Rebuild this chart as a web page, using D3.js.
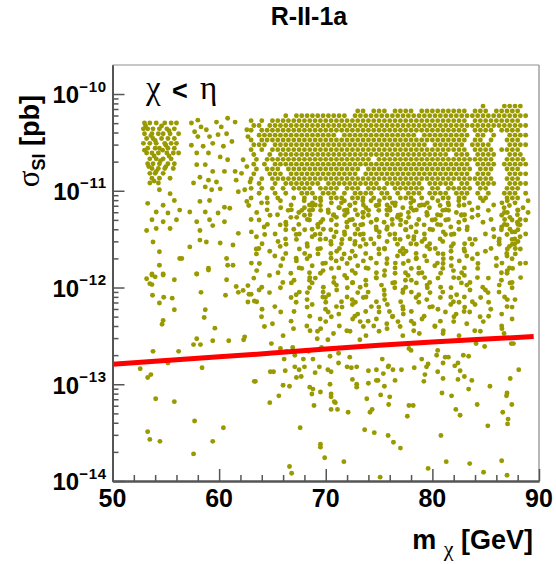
<!DOCTYPE html>
<html><head><meta charset="utf-8">
<script src="https://cdn.jsdelivr.net/npm/d3@7"></script>
<style>body{margin:0;background:#fff}svg{display:block}</style>
</head><body>
<svg id="c" width="556" height="564"></svg>
<script>
// ---------------- data ----------------
const chartTitle = "R-II-1a";
const xMajorTicks = [50, 60, 70, 80, 90];
const xMinorTicks = [52, 54, 56, 58, 62, 64, 66, 68, 72, 74, 76, 78, 82, 84, 86, 88];
const yDecades = [-14, -13, -12, -11, -10];
const yDecadeLabels = ["\u221214", "\u221213", "\u221212", "\u221211", "\u221210"];

// exclusion limit (red curve)
const limitMass = [50, 55, 60, 65, 70, 75, 80, 85, 89.5];
const limitSigma = [1.61e-13, 1.76e-13, 1.92e-13, 2.10e-13, 2.32e-13, 2.53e-13, 2.74e-13, 2.93e-13, 3.11e-13];

// dense part of the scan, read as occupied cells of a 0.5 GeV x 0.05 decade grid.
// '#' = point at cell centre, '1'..'9' = point in that 3x3 sub-position of the cell, '.' = empty
const gridMassStart = 63.25, gridMassStep = 0.5;
const gridLogStart = -10.125, gridLogStep = 0.05;
const denseRows = [
".......... .......... .......... .......... ...#...### #..",
".......... .......... ##.###.### #.######## #.###.#### #..",
"......#.## ########.# ########## ########## ########## ##.",
"#.#.###### ########## ########## ########## #.######## #..",
"##.####### ########## ########## ########## ########## ##.",
"#.######## ########## ########## ########## #.####.### #..",
".######### ######.### ########## #.######## #.##.#..## ##.",
"#.######## ########## ########## ########## #.##.#..## #..",
"###.###### ########## ########## ###.###### .####...## ##.",
"#.#.###### ########## ########## ########## #.####.### #..",
"#..#.##### ########## ########## #######.## #.####..## #..",
".#.####### ########## ###.###### ########## ######..## ##.",
"#.#.###### ########## ########## ########## #.####.### ##.",
".#.###.### ########## #.######## ########## ##.###..## #..",
"#..###.### ########## .######### ########## #.###...## ##.",
"#.#.###### ########## ########## ########## ######..## #..",
".#..#.#### ###.###### ####.##### ##.#####.# #.####..## ##.",
"#.#.#.#.## ##.####.## #.####.### ###.##.### ##.##...## #..",
".#..#.#..# ##.###.#.# ###.##.#.# ##.####.## #.#.#..### .#.",
"#..#.#..#. #.##.###.# ##.#.##.## #.#.#.##.# #..##...## #..",
".6.4.2.8.3 9571.46285 37291854.6 2984.16739 6..2.8.415 .3.",
"1..8..4.7. 53729.6481 7.4319526. 5816.397.2 .9.4...63. 85.",
".4..9.3.62 37.158.249 6413.81.75 2.6793.158 7...2..549 16.",
"8...1..6.4 27.9.35.18 .52.7.961. 49.2.718.3 .6.1.8.274 9..",
".2.7..5.9. 3.84.1.62. 9.526.8.14 .7.39.2.6. 1..5...836 72.",
"..6..3.18. .9.47.2.53 81.6.94.2. 5.3.7.16.8 .4...9.527 3..",
"4...8.2..7 1.9.36.5.8 .7.24.9.31 6.8.1.4.7. 2..9..3.65 18.",
".5.1..9.3. .62.8.4.17 3.9.5.28.6 .4.7.93.1. .8....4729 6..",
"..7..4..2. 8.3.6.91.5 .1.7.5.3.9 2.48.6.9.. 7.1...5.38 4..",
".9...6.1.. .4.8.2.7.3 6.1..8.39. .2.5.7..4. .3...8.162 7..",
"3..5..8..1 7.2.9.4.6. .8.3.1.6.4 9..2.7.5.3 4..6...91. 2..",
".2..6...9. .5.1.8.3.7 4.9.2..6.1 .8.4..2.7. 6.3...8.5. 1..",
"7....3..5. 2..9.6.1.. .4.8.2.7.5 3.6.9.1..4 .2.....73. .8.",
"..1...4..8 .6.3..9.2. 5.7..3.8.1 .9..6.2.4. 8..1..5.9. 3..",
".4...7...2 9..5.1..6. .3.8.4..9. 1.7..3.6.8 ..2...9.41 ...",
"...6...3.. .8.2..7.4. 1..9.5.2.6 .3.7..1.8. 5.9.....2. .7.",
"2....9..4. 6.1..8.3.7 .5.2..9.6. 4..8.1..3. .7..2.6.9. ...",
"..8.....1. .3..7.5..2 9.4.6..1.8 .2.5..7..3 6..9...4.1 ...",
".5...2...7 3..8..4.1. .9..6.3.5. 7..1.9.2.. .4.6..8.3. ...",
"...3....6. .1.9.4..8. 2.7..5..3. .6..1..9.4 8...3...7. ...",
".7.....2.. 5..3..9.6. .1.8.4..7. 3.6..2.9.. .8.1....45 ...",
"....9...3. .6..2.8..5 1..7..4.9. .3..8..6.2 ..5..1..8. ...",
"..4.....7. 2..6...1.. .8.3.9..5. 7..2.4...9 1...6...3. ...",
"......1... .8..3.6..9 5...2..7.4 ..9...3.6. .2...7.5.. ...",
".3.....8.. ..6..1...4 .9.5..2... 7.4..8..1. ..3.....6. ...",
"....5..... 9...2..7.. 3..8.6..1. .4..9...2. 6...1..8.. ...",
"..2....6.. .7.4...9.. .1...5.3.. 8...2.7... .9.....4.. ...",
"......8... ..3..6...1 ..7.2...9. ..4...5..8 ...2...6.. ..."
];

// individually read points: [mass (GeV), log10(sigma/pb)]
const sparsePoints = [
[53.0,-10.30],[53.5,-10.30],[54.1,-10.30],[54.9,-10.30],[55.5,-10.30],[56.0,-10.30],
[52.9,-10.36],[53.3,-10.36],[53.8,-10.36],[54.4,-10.36],[55.1,-10.36],[55.8,-10.36],
[53.0,-10.41],[53.7,-10.41],[54.3,-10.41],[54.75,-10.41],[55.4,-10.41],[56.2,-10.41],
[53.2,-10.46],[53.8,-10.46],[54.6,-10.46],[55.2,-10.46],[55.8,-10.46],
[52.9,-10.51],[53.5,-10.51],[54.1,-10.51],[54.9,-10.51],[55.5,-10.51],[56.0,-10.51],
[53.3,-10.56],[54.0,-10.56],[54.4,-10.56],[55.2,-10.56],[55.8,-10.56],
[53.2,-10.61],[53.7,-10.61],[54.3,-10.61],[55.1,-10.61],[55.7,-10.61],[56.2,-10.61],
[53.5,-10.67],[54.1,-10.67],[54.75,-10.67],[55.5,-10.67],
[53.3,-10.72],[53.8,-10.72],[54.4,-10.72],[55.2,-10.72],[55.8,-10.72],
[53.7,-10.77],[54.3,-10.77],[54.9,-10.77],[55.7,-10.77],
[53.5,-10.82],[54.0,-10.82],[54.75,-10.82],
[53.7,-10.87],[54.4,-10.87],[55.4,-10.87],[53.5,-10.92],[54.3,-10.92],
[53.1,-10.33],[54.6,-10.33],[55.3,-10.38],[53.6,-10.43],[54.0,-10.48],[55.0,-10.53],[53.0,-10.58],
[54.7,-10.58],[53.9,-10.64],[55.3,-10.64],[54.5,-10.69],[53.4,-10.75],[55.0,-10.75],[54.1,-10.80],[53.9,-10.90],
[54.4,-10.99],[55.4,-11.03],[53.3,-11.13],[54.75,-11.15],[55.8,-11.10],[54.1,-11.22],[55.2,-11.23],
[56.3,-11.20],[53.7,-11.30],[54.75,-11.32],[56.0,-11.30],[53.2,-11.41],[54.1,-11.39],[55.4,-11.39],
[53.8,-11.53],[54.4,-11.63],[56.5,-11.70],[54.4,-11.77],[53.7,-11.86],[54.75,-11.86],
[57.4,-10.30],[58.0,-10.27],[58.3,-10.34],[57.7,-10.39],[58.8,-10.37],[59.75,-10.29],[60.2,-10.34],
[60.8,-10.25],[61.5,-10.29],[60.7,-10.41],[59.9,-10.42],[59.1,-10.44],[58.0,-10.44],[57.4,-10.53],
[58.5,-10.54],[59.4,-10.51],[60.4,-10.54],[61.2,-10.49],[57.9,-10.61],[59.0,-10.61],[60.1,-10.65],
[60.8,-10.68],[58.7,-10.73],[57.9,-10.73],[59.4,-10.80],[60.5,-10.80],[61.5,-10.80],[58.2,-10.86],
[59.0,-10.89],[59.75,-10.91],[57.6,-10.92],[58.7,-10.96],[59.3,-10.99],[60.1,-10.98],[61.6,-10.89],
[61.8,-11.01],[58.2,-11.11],[59.1,-11.10],[60.5,-11.17],[61.0,-11.18],[59.9,-11.23],[58.7,-11.22],
[57.9,-11.32],[59.1,-11.30],[57.25,-11.22],[62.6,-11.11],[60.5,-11.32],[58.2,-11.41],[59.4,-11.36],
[61.8,-11.44],[60.1,-11.54],[57.25,-11.58],[58.2,-11.51],[58.8,-11.53],[61.3,-11.56],[60.7,-11.70],
[60.8,-11.77],[61.3,-11.77],[59.0,-11.80],[57.9,-11.86],[56.3,-11.70],[62.6,-10.37],[62.7,-10.44],
[62.25,-10.68],[62.6,-10.75],[62.1,-10.82],[62.9,-10.91],[62.4,-10.99],
[53.2,-11.91],[53.7,-11.87],[54.0,-11.89],[54.75,-11.87],[55.8,-11.92],[53.5,-11.96],[53.7,-11.97],
[53.75,-12.08],[54.8,-12.10],[54.4,-12.16],[55.6,-12.11],[55.8,-12.23],[54.75,-12.34],[54.65,-12.38],
[57.9,-11.86],[59.0,-11.82],[58.3,-12.05],[58.7,-12.23],[58.6,-12.31],[59.6,-12.42],[57.6,-12.59],
[57.9,-12.53],[58.25,-12.59],[59.4,-12.55],[60.9,-12.55],[60.7,-11.92],[60.6,-12.08],[61.6,-11.99],
[61.8,-12.05],[62.25,-12.03],[62.7,-11.98],[62.8,-12.07],[63.0,-12.07],[62.7,-12.15],[63.3,-12.14],
[62.4,-12.51],[62.3,-12.54],[53.8,-12.66],[56.2,-12.66],[55.2,-12.78],[52.6,-12.84],[53.6,-12.90],
[53.3,-12.93],[58.4,-12.83],[63.3,-12.97],
[64.9,-12.58],[65.75,-12.63],[63.4,-12.97],[64.8,-12.87],[65.1,-12.87],[66.2,-12.86],[66.0,-13.01],
[66.6,-13.02],[67.25,-12.93],[67.7,-12.92],[67.1,-12.82],[67.5,-12.85],[68.0,-12.82],[68.5,-13.03],
[68.8,-13.05],[68.7,-13.10],[69.5,-13.08],[70.4,-13.00],[70.2,-12.85],[70.5,-12.87],[69.4,-12.82],
[69.0,-12.88],[71.2,-12.78],[72.0,-12.82],[72.4,-12.83],[72.9,-12.82],[72.5,-12.95],[72.9,-13.00],
[72.9,-13.03],[74.0,-12.86],[74.75,-12.85],[74.0,-12.99],[74.75,-12.96],[74.9,-12.96],[75.5,-13.02],
[75.4,-12.89],[76.3,-12.85],[75.85,-12.82],[70.5,-13.10],
[68.8,-12.74],[68.4,-12.66],[72.25,-12.72],[75.3,-12.74],[75.9,-12.81],[66.1,-12.74],[67.9,-12.74],
[67.1,-12.70],[70.4,-12.71],[71.2,-12.68],[69.6,-12.62],[70.2,-12.54],[69.2,-12.53],[73.2,-12.54],
[66.9,-12.62],[66.3,-12.66],
[77.8,-12.63],[78.0,-12.65],[79.0,-12.74],[79.6,-12.79],[79.45,-12.82],[80.4,-12.70],[80.5,-12.65],
[81.2,-12.72],[81.5,-12.72],[81.0,-12.78],[80.5,-12.87],[81.0,-12.94],[82.4,-12.78],[82.1,-12.81],
[82.6,-12.86],[83.0,-12.92],[82.4,-12.95],[82.9,-12.70],[83.4,-13.05],[84.1,-12.58],[84.9,-12.61],
[85.4,-13.02],[87.4,-12.58],[87.6,-12.58],[88.1,-12.85],[87.3,-12.94],[87.0,-13.09],[77.1,-12.85],
[76.5,-12.96],[78.3,-12.83],[79.3,-12.90],[79.2,-12.97],[80.9,-13.09],[83.4,-12.71],[83.7,-12.96],
[54.05,-13.15],[55.8,-13.18],[53.3,-13.49],[53.5,-13.57],[54.45,-13.59],[57.7,-13.38],[57.6,-13.72],
[59.4,-13.59],[60.4,-13.45],[64.75,-13.19],[65.6,-13.12],[66.6,-13.85],[66.8,-13.92],[67.6,-13.45],
[68.9,-13.22],[69.5,-13.62],[69.5,-13.65],[69.9,-13.76],[70.5,-13.13],[70.8,-13.18],[70.5,-13.26],
[71.1,-13.26],[70.9,-13.19],[72.1,-13.29],[71.7,-13.80],[73.65,-13.47],[73.85,-13.15],[74.15,-13.29],
[74.35,-13.26],[74.55,-13.50],[75.1,-13.96],[75.15,-13.11],[75.9,-13.21],[76.0,-13.13],[75.85,-13.53],
[76.35,-13.60],[77.0,-13.66],[77.65,-13.33],[77.8,-13.22],[78.2,-13.22],[79.6,-13.87],[80.8,-13.53],
[81.3,-13.80],[81.8,-13.12],[82.2,-13.26],[82.6,-13.32],[83.5,-13.82],[84.2,-13.21],[84.8,-13.91],
[85.2,-13.43],[86.5,-13.79],[86.6,-13.29],[86.95,-13.12],[87.0,-13.94],[87.1,-13.36],[87.05,-13.41],
[87.45,-13.21]
];

// ---------------- chart ----------------
const W = 556, H = 564;
const L = 112.5, R = 539, T = 65, B = 481;
const svg = d3.select("#c");
svg.append("rect").attr("width", W).attr("height", H).attr("fill", "#fff");

const x = d3.scaleLinear().domain([50, 90]).range([L, R]);
const y = d3.scaleLog().domain([1e-14, Math.pow(10, -9.7)]).range([B, T]);

// assemble points from the grid reading and the individual reading
const points = [];
denseRows.forEach((row, r) => {
  const s = row.replace(/ /g, "");
  for (let c = 0; c < s.length; c++) {
    const ch = s[c];
    if (ch === ".") continue;
    const sub = ch === "#" ? 4 : (+ch - 1);
    const fx = (sub % 3 - 1) * 0.45, fy = (Math.floor(sub / 3) - 1) * 0.45;
    const m = gridMassStart + (c + fx) * gridMassStep - (r % 2 ? gridMassStep / 2 : 0);
    points.push([m, gridLogStart - (r + fy) * gridLogStep]);
  }
});
sparsePoints.forEach(p => points.push(p));

svg.append("clipPath").attr("id", "clip").append("rect")
  .attr("x", L).attr("y", T).attr("width", R - L).attr("height", B - T);

svg.append("g").attr("clip-path", "url(#clip)")
  .selectAll("circle").data(points).join("circle")
  .attr("cx", d => x(d[0]))
  .attr("cy", d => y(Math.pow(10, d[1])))
  .attr("r", 2.45)
  .attr("fill", "#999900");

// limit line
const limitData = limitMass.map((m, i) => [m, limitSigma[i]]);
svg.append("path").datum(limitData)
  .attr("clip-path", "url(#clip)")
  .attr("fill", "none").attr("stroke", "#ff0000").attr("stroke-width", 5)
  .attr("d", d3.line().x(d => x(d[0])).y(d => y(d[1])));

// frame top/right
svg.append("line").attr("x1", L).attr("x2", R).attr("y1", T).attr("y2", T)
  .attr("stroke", "#b5b5b5").attr("stroke-width", 1.5);
svg.append("line").attr("x1", R).attr("x2", R).attr("y1", T).attr("y2", B)
  .attr("stroke", "#a0a0a0").attr("stroke-width", 1.5);

const axisColor = "#555";
function styleAxis(g) {
  g.select(".domain").attr("stroke", axisColor).attr("stroke-width", 2);
  g.selectAll(".tick line").attr("stroke", axisColor).attr("stroke-width", 1.5);
  g.selectAll(".tick text").remove();
}

// x axis
svg.append("g").attr("transform", `translate(0,${B})`)
  .call(d3.axisBottom(x).tickValues(xMinorTicks).tickSize(-6).tickSizeOuter(0).tickFormat(""))
  .call(styleAxis);
svg.append("g").attr("transform", `translate(0,${B})`)
  .call(d3.axisBottom(x).tickValues(xMajorTicks).tickSize(-12).tickSizeOuter(0).tickFormat(""))
  .call(styleAxis);

// y axis
const yMinor = [];
yDecades.forEach(d => { for (let k = 2; k <= 9; k++) { const v = k * Math.pow(10, d); if (v < Math.pow(10, -9.7)) yMinor.push(v); } });
svg.append("g").attr("transform", `translate(${L},0)`)
  .call(d3.axisLeft(y).tickValues(yMinor).tickSize(-6).tickSizeOuter(0).tickFormat(""))
  .call(styleAxis);
svg.append("g").attr("transform", `translate(${L},0)`)
  .call(d3.axisLeft(y).tickValues(yDecades.map(d => Math.pow(10, d))).tickSize(-12).tickSizeOuter(0).tickFormat(""))
  .call(styleAxis);

const sans = "'Liberation Sans', Arial, Helvetica, sans-serif";
const serif = "'Liberation Serif', 'Times New Roman', serif";

// x tick labels
svg.append("g").selectAll("text").data(xMajorTicks).join("text")
  .attr("x", d => x(d)).attr("y", 507)
  .attr("text-anchor", "middle")
  .attr("font-family", sans).attr("font-weight", "bold").attr("font-size", 25)
  .text(d => d);

// y tick labels
yDecades.forEach((d, i) => {
  const t = svg.append("text")
    .attr("x", 107).attr("y", y(Math.pow(10, d)) + 9.3)
    .attr("text-anchor", "end")
    .attr("font-family", sans).attr("font-weight", "bold").attr("font-size", 24);
  t.append("tspan").text("10");
  t.append("tspan").attr("dy", -11.6).attr("font-size", 15).attr("letter-spacing", 0.8).text(yDecadeLabels[i]);
});

// title
svg.append("text").attr("x", 309).attr("y", 25).attr("text-anchor", "middle")
  .attr("font-family", sans).attr("font-weight", "bold").attr("font-size", 25)
  .text(chartTitle);

// y axis title
const yt = svg.append("text")
  .attr("transform", "translate(39,95) rotate(-90)")
  .attr("text-anchor", "end")
  .attr("font-family", sans).attr("font-weight", "bold").attr("font-size", 27);
yt.append("tspan").attr("font-family", serif).attr("font-weight", "normal").attr("font-size", 31).text("\u03c3");
yt.append("tspan").attr("dy", 6).attr("font-size", 18).text("SI");
yt.append("tspan").attr("dy", -6).text(" [pb]");

// x axis title
const xt = svg.append("text")
  .attr("x", 533).attr("y", 549)
  .attr("text-anchor", "end")
  .attr("font-family", sans).attr("font-weight", "bold").attr("font-size", 27);
xt.append("tspan").text("m ");
xt.append("tspan").attr("dy", 7).attr("font-family", serif).attr("font-weight", "normal").attr("font-size", 22).text("\u03c7");
xt.append("tspan").attr("dy", -7).text(" [GeV]");

// in-plot label
svg.append("text").attr("x", 146).attr("y", 99)
  .attr("font-family", serif).attr("font-size", 33).text("\u03c7");
svg.append("text").attr("x", 172).attr("y", 100)
  .attr("font-family", sans).attr("font-weight", "bold").attr("font-size", 27).text("<");
svg.append("text").attr("x", 200).attr("y", 99)
  .attr("font-family", serif).attr("font-size", 33).text("\u03b7");
</script>
</body></html>
